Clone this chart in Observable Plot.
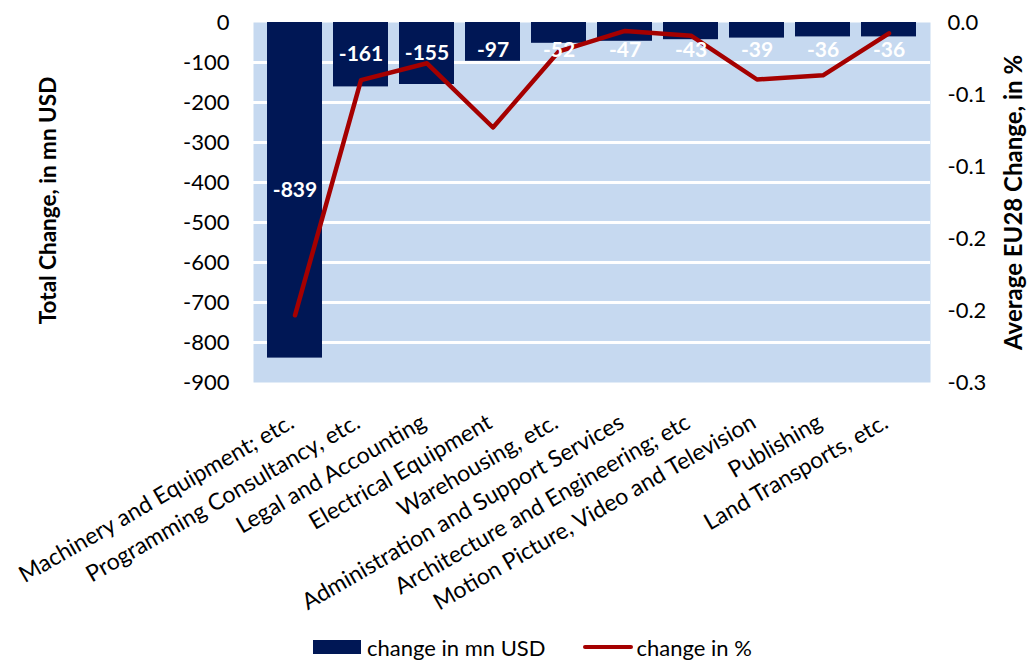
<!DOCTYPE html>
<html>
<head>
<meta charset="utf-8">
<script src="https://cdn.jsdelivr.net/npm/d3@7"></script>
<script src="https://cdn.jsdelivr.net/npm/@observablehq/plot@0.6"></script>
<style>
  html, body { margin: 0; padding: 0; background: white; }
  body { width: 1030px; height: 664px; overflow: hidden; font-family: Lato, "Open Sans", sans-serif; }
  #legend { display: flex; align-items: center; height: 34px; padding-left: 313px; font-size: 22px; color: #000; }
  .sw-bar { width: 48px; height: 14px; background: #001755; margin-right: 6px; }
  .sw-line { width: 50px; height: 4px; background: #a50000; border-radius: 2px; margin-left: 37px; margin-right: 4px; }
</style>
</head>
<body>
<div id="chart"></div>
<div id="legend">
  <div class="sw-bar"></div><span>change in mn USD</span>
  <div class="sw-line"></div><span>change in %</span>
</div>
<script>
const categories = [
  "Machinery and Equipment; etc.",
  "Programming Consultancy, etc.",
  "Legal and Accounting",
  "Electrical Equipment",
  "Warehousing, etc.",
  "Administration and Support Services",
  "Architecture and Engineering; etc",
  "Motion Picture, Video and Television",
  "Publishing",
  "Land Transports, etc."
];
const totalChange = [-839, -161, -155, -97, -52, -47, -43, -39, -36, -36];
const pctChange = [-0.244, -0.048, -0.034, -0.0875, -0.024, -0.007, -0.011, -0.0475, -0.044, -0.009];
const leftTicks = [0, -100, -200, -300, -400, -500, -600, -700, -800, -900];
const rightTicks = [0, -0.06, -0.12, -0.18, -0.24, -0.3];
const leftTitle = "Total Change, in mn USD";
const rightTitle = "Average EU28 Change, in %";

const leftMin = -900, rightMin = -0.3;
const k = leftMin / rightMin; // maps % onto the mn USD scale

const data = categories.map((c, i) => ({cat: c, total: totalChange[i], pct: pctChange[i]}));

const chart = Plot.plot({
  width: 1030,
  height: 630,
  marginLeft: 253,
  marginRight: 100,
  marginTop: 22,
  marginBottom: 248,
  style: {fontFamily: "Lato, 'Open Sans', sans-serif", fontSize: "21px", color: "#000", background: "white", overflow: "visible"},
  x: {domain: categories, padding: 0.16, label: null},
  y: {domain: [leftMin, 0], label: null},
  marks: [
    Plot.frame({fill: "#c6d9f0", stroke: null}),
    Plot.ruleY(leftTicks.filter(t => t > leftMin && t < 0), {stroke: "white", strokeWidth: 3}),
    Plot.barY(data, {x: "cat", y: "total", fill: "#001755"}),
    Plot.lineY(data, {x: "cat", y: d => d.pct * k, stroke: "#a50000", strokeWidth: 4.5, strokeLinejoin: "round", strokeLinecap: "round"}),
    Plot.text(data, {x: "cat", y: d => Math.min(d.total / 2, -70), text: d => String(d.total), fill: "white", fontWeight: "bold", fontSize: 21}),
    Plot.axisX({tickRotate: -30, tickSize: 0, tickPadding: 38, dx: -3, label: null, fontSize: 23}),
    Plot.axisY({anchor: "left", ticks: leftTicks, tickSize: 0, tickPadding: 24, label: null, tickFormat: d => String(d), fontSize: 22}),
    Plot.axisY({anchor: "right", ticks: rightTicks.map(t => t * k), tickSize: 0, tickPadding: 17, label: null, tickFormat: d => (d / k).toFixed(1), fontSize: 22}),
    Plot.text([leftTitle], {frameAnchor: "left", textAnchor: "middle", rotate: -90, dx: -205, dy: -2, fontWeight: "bold", fontSize: 22.5, text: d => d}),
    Plot.text([rightTitle], {frameAnchor: "right", textAnchor: "middle", rotate: -90, dx: 84, fontWeight: "bold", fontSize: 24, text: d => d})
  ]
});
document.getElementById("chart").appendChild(chart);
</script>
</body>
</html>
